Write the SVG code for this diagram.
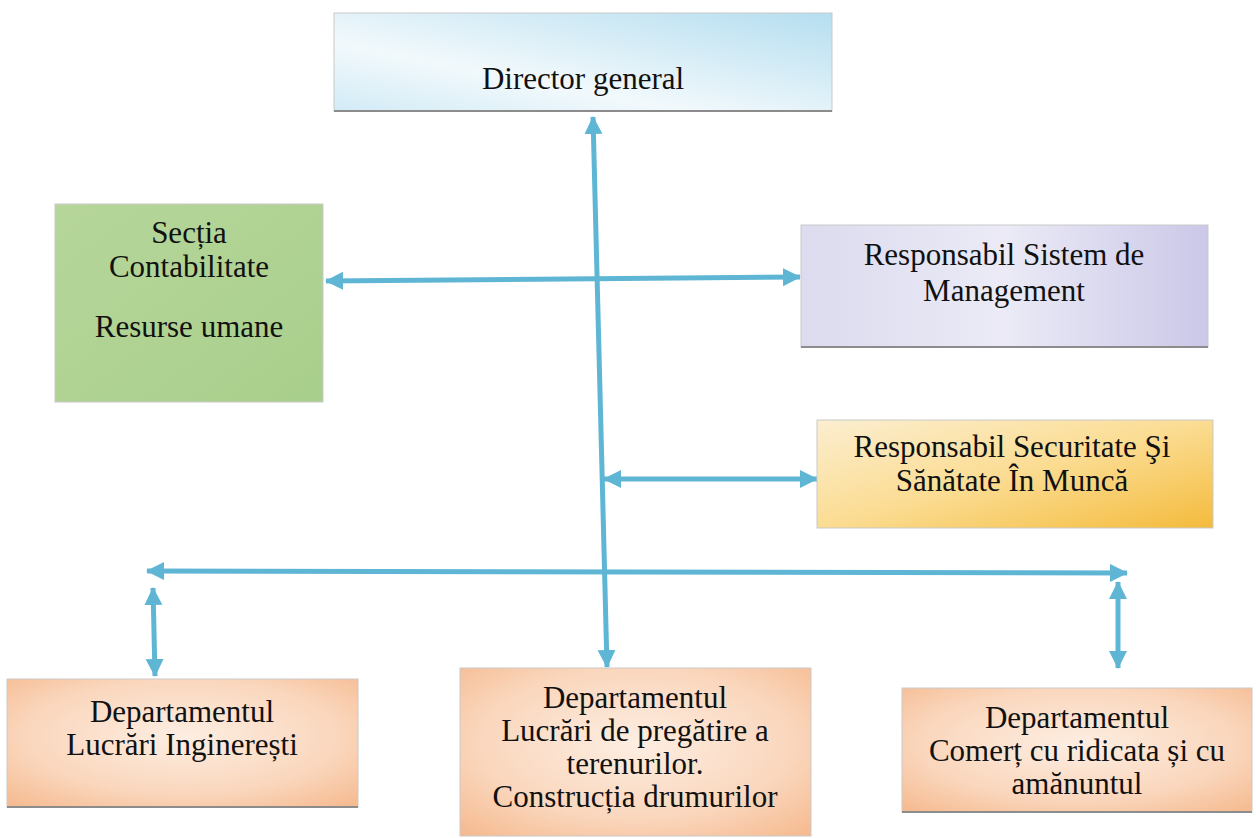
<svg xmlns="http://www.w3.org/2000/svg" width="1256" height="838" viewBox="0 0 1256 838">
<style>
  .box { stroke: #c9c9c9; stroke-width: 1; }
  .shadow { stroke: #8c8c8c; stroke-width: 2; fill: none; }
  .lbl { font-family: "Liberation Serif", "Times New Roman", serif; font-size: 31px; fill: #111; text-anchor: middle; }
  .conn { stroke: #5fb6d4; stroke-width: 5; fill: none; marker-start: url(#ah); marker-end: url(#ah); }
</style>
<defs>
  <marker id="ah" markerUnits="userSpaceOnUse" markerWidth="20" markerHeight="20" refX="17" refY="9" orient="auto-start-reverse">
    <path d="M0,0 L18,9 L0,18 z" fill="#5fb6d4"/>
  </marker>
  <linearGradient id="gBlue" x1="0" y1="1" x2="1" y2="0">
    <stop offset="0" stop-color="#d2ebf6"/>
    <stop offset="0.35" stop-color="#f2f9fc"/>
    <stop offset="1" stop-color="#b5def0"/>
  </linearGradient>
  <linearGradient id="gGreen" x1="0" y1="0" x2="1" y2="1">
    <stop offset="0" stop-color="#b6d69a"/>
    <stop offset="1" stop-color="#a9cf8c"/>
  </linearGradient>
  <linearGradient id="gPurple" x1="0" y1="0" x2="1" y2="0">
    <stop offset="0" stop-color="#dcdbef"/>
    <stop offset="0.5" stop-color="#ebeaf6"/>
    <stop offset="1" stop-color="#cbc8e8"/>
  </linearGradient>
  <linearGradient id="gYellow" x1="0" y1="0" x2="1" y2="1">
    <stop offset="0" stop-color="#fbeed0"/>
    <stop offset="0.5" stop-color="#fbdc92"/>
    <stop offset="1" stop-color="#f4bb3c"/>
  </linearGradient>
  <radialGradient id="gPeach" cx="0.5" cy="0.45" r="0.75">
    <stop offset="0" stop-color="#fdeee2"/>
    <stop offset="0.6" stop-color="#fad6bc"/>
    <stop offset="1" stop-color="#f5b88c"/>
  </radialGradient>
</defs>

<rect width="1256" height="838" fill="#ffffff"/>

<g id="connectors">
  <line class="conn" x1="593" y1="117" x2="607" y2="667"/>
  <line class="conn" x1="326" y1="281" x2="800" y2="277"/>
  <line class="conn" x1="604" y1="479" x2="817" y2="479"/>
  <line class="conn" x1="147" y1="571" x2="1127" y2="573"/>
  <line class="conn" x1="153" y1="588" x2="155" y2="676"/>
  <line class="conn" x1="1118" y1="582" x2="1118" y2="668"/>
</g>

<g id="director">
  <rect class="box" x="334" y="13" width="498" height="98" fill="url(#gBlue)"/>
  <line class="shadow" x1="334" y1="111" x2="832" y2="111"/>
  <text class="lbl" x="583" y="89">Director general</text>
</g>

<g id="contabilitate">
  <rect class="box" x="55" y="204" width="268" height="198" fill="url(#gGreen)"/>
  <text class="lbl" x="189" y="243">Secția</text>
  <text class="lbl" x="189" y="277">Contabilitate</text>
  <text class="lbl" x="189" y="337">Resurse umane</text>
</g>

<g id="management">
  <rect class="box" x="801" y="225" width="407" height="122" fill="url(#gPurple)"/>
  <line class="shadow" x1="801" y1="347" x2="1208" y2="347"/>
  <text class="lbl" x="1004" y="265">Responsabil Sistem de</text>
  <text class="lbl" x="1004" y="301">Management</text>
</g>

<g id="securitate">
  <rect class="box" x="817" y="420" width="396" height="108" fill="url(#gYellow)"/>
  <text class="lbl" x="1012" y="457">Responsabil Securitate Şi</text>
  <text class="lbl" x="1012" y="491">Sănătate În Muncă</text>
</g>

<g id="dep-inginerești">
  <rect class="box" x="7" y="679" width="351" height="128" fill="url(#gPeach)"/>
  <line class="shadow" x1="7" y1="807" x2="358" y2="807"/>
  <text class="lbl" x="182" y="722">Departamentul</text>
  <text class="lbl" x="182" y="755">Lucrări Inginerești</text>
</g>

<g id="dep-drumuri">
  <rect class="box" x="460" y="668" width="351" height="168" fill="url(#gPeach)"/>
  <text class="lbl" x="635" y="708">Departamentul</text>
  <text class="lbl" x="635" y="741">Lucrări de pregătire a</text>
  <text class="lbl" x="635" y="774">terenurilor.</text>
  <text class="lbl" x="635" y="807">Construcția drumurilor</text>
</g>

<g id="dep-comert">
  <rect class="box" x="902" y="688" width="350" height="124" fill="url(#gPeach)"/>
  <line class="shadow" x1="902" y1="812" x2="1252" y2="812"/>
  <text class="lbl" x="1077" y="728">Departamentul</text>
  <text class="lbl" x="1077" y="761">Comerț cu ridicata și cu</text>
  <text class="lbl" x="1077" y="794">amănuntul</text>
</g>
</svg>
